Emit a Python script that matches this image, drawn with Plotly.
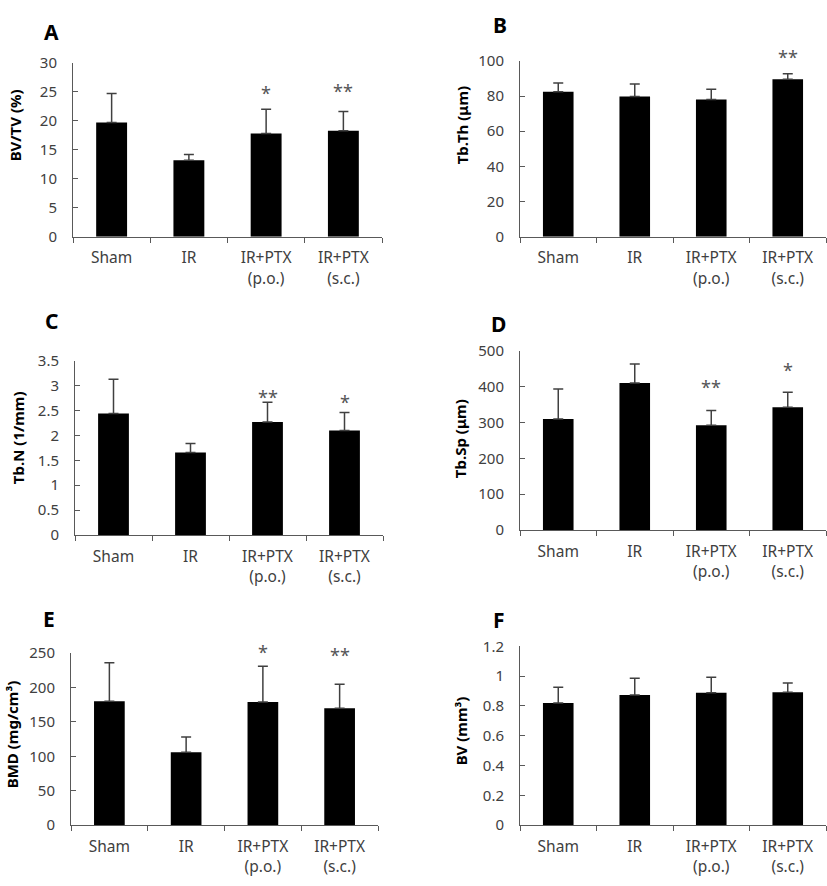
import plotly.graph_objects as go

W, H = 827, 886

categories = ["Sham", "IR", "IR+PTX<br>(p.o.)", "IR+PTX<br>(s.c.)"]

# Panel A: BV/TV (%)
bvtv_mean = [19.7, 13.2, 17.8, 18.3]
bvtv_err = [5.0, 1.0, 4.2, 3.3]
bvtv_stars = ["", "", "*", "**"]
bvtv_star_y = [0, 0, 24.8, 25.1]

# Panel B: Tb.Th (um)
tbth_mean = [82.4, 79.8, 78.1, 89.6]
tbth_err = [5.0, 7.1, 5.8, 3.0]
tbth_stars = ["", "", "", "**"]
tbth_star_y = [0, 0, 0, 102.4]

# Panel C: Tb.N (1/mm)
tbn_mean = [2.44, 1.66, 2.27, 2.10]
tbn_err = [0.69, 0.18, 0.40, 0.36]
tbn_stars = ["", "", "**", "*"]
tbn_star_y = [0, 0, 2.77, 2.67]

# Panel D: Tb.Sp (um)
tbsp_mean = [310, 411, 293, 343]
tbsp_err = [84, 53, 41, 42]
tbsp_stars = ["", "", "**", "*"]
tbsp_star_y = [0, 0, 399, 446]

# Panel E: BMD (mg/cm3)
bmd_mean = [180, 106, 179, 170]
bmd_err = [56, 22, 52, 35]
bmd_stars = ["", "", "*", "**"]
bmd_star_y = [0, 0, 252, 248]

# Panel F: BV (mm3)
bv_mean = [0.82, 0.873, 0.888, 0.892]
bv_err = [0.105, 0.113, 0.105, 0.062]
bv_stars = ["", "", "", ""]
bv_star_y = [0, 0, 0, 0]

panels = [
    dict(letter="A", title="BV/TV (%)", mean=bvtv_mean, err=bvtv_err, stars=bvtv_stars, star_y=bvtv_star_y,
         ymax=30, dtick=5, px=(73, 382), py=(53, 231), lpos=(51, 21), tpos=(15, 117)),
    dict(letter="B", title="Tb.Th (μm)", mean=tbth_mean, err=tbth_err, stars=tbth_stars, star_y=tbth_star_y,
         ymax=100, dtick=20, px=(520, 826), py=(51, 231), lpos=(500, 14), tpos=(462, 117)),
    dict(letter="C", title="Tb.N (1/mm)", mean=tbn_mean, err=tbn_err, stars=tbn_stars, star_y=tbn_star_y,
         ymax=3.5, dtick=0.5, px=(75, 383), py=(358, 536), lpos=(51, 317), tpos=(18, 437)),
    dict(letter="D", title="Tb.Sp (μm)", mean=tbsp_mean, err=tbsp_err, stars=tbsp_stars, star_y=tbsp_star_y,
         ymax=500, dtick=100, px=(520, 826), py=(348, 531), lpos=(498, 320), tpos=(460, 437)),
    dict(letter="E", title="BMD (mg/cm³)", mean=bmd_mean, err=bmd_err, stars=bmd_stars, star_y=bmd_star_y,
         ymax=250, dtick=50, px=(71, 378), py=(657, 833), lpos=(49, 622), tpos=(12, 740)),
    dict(letter="F", title="BV (mm³)", mean=bv_mean, err=bv_err, stars=bv_stars, star_y=bv_star_y,
         ymax=1.2, dtick=0.2, px=(520, 826), py=(650, 833), lpos=(499, 623), tpos=(461, 737)),
]

FONT = "Noto Sans"
AXIS_COLOR = "#595959"
TEXT_COLOR = "#404040"

fig = go.Figure()
annotations = []
layout = {}

for i, p in enumerate(panels, start=1):
    xa = "x" if i == 1 else f"x{i}"
    ya = "y" if i == 1 else f"y{i}"
    fig.add_trace(go.Bar(
        x=categories, y=p["mean"], xaxis=xa, yaxis=ya,
        marker=dict(color="#000000", line=dict(width=0)),
        width=0.4,
        error_y=dict(type="data", symmetric=False, array=p["err"], arrayminus=[0] * 4,
                     color="#404040", thickness=1.5, width=5),
        showlegend=False, hoverinfo="skip",
    ))
    x0, x1 = p["px"]
    y0, y1 = p["py"]
    layout["xaxis" if i == 1 else f"xaxis{i}"] = dict(
        domain=[x0 / W, x1 / W], anchor=ya, type="category",
        range=[-0.5, 3.5], showline=True, linecolor=AXIS_COLOR, linewidth=1,
        ticks="outside", ticklen=5, tickcolor=AXIS_COLOR, tickson="boundaries",
        showgrid=False, zeroline=False, ticklabelstandoff=7,
        tickfont=dict(family=FONT, size=15.5, color=TEXT_COLOR),
    )
    layout["yaxis" if i == 1 else f"yaxis{i}"] = dict(
        domain=[1 - y1 / H, 1 - y0 / H], anchor=xa,
        range=[0, p["ymax"]], dtick=p["dtick"], tick0=0,
        showline=True, linecolor=AXIS_COLOR, linewidth=1,
        ticks="inside", ticklen=5, tickcolor=AXIS_COLOR,
        showgrid=False, zeroline=False, ticklabelstandoff=12,
        tickfont=dict(family=FONT, size=15, color=TEXT_COLOR),
    )
    # panel letter
    annotations.append(dict(
        text=f"<b>{p['letter']}</b>", x=p["lpos"][0] / W, y=1 - p["lpos"][1] / H,
        xref="paper", yref="paper", showarrow=False, xanchor="center", yanchor="middle",
        font=dict(family=FONT, size=21, color="#000000"),
    ))
    # y-axis title
    annotations.append(dict(
        text=f"<b>{p['title']}</b>", x=p["tpos"][0] / W, y=1 - p["tpos"][1] / H,
        xref="paper", yref="paper", showarrow=False, textangle=-90,
        xanchor="center", yanchor="middle",
        font=dict(family=FONT, size=15, color="#000000"),
    ))
    # significance stars (y given in data units, placed via the axis domain so
    # stars above the top of the range are still shown)
    for c, s, sy in zip(categories, p["stars"], p["star_y"]):
        if s:
            annotations.append(dict(
                text=s, x=c, y=sy / p["ymax"], xref=xa, yref=f"{ya} domain", showarrow=False,
                xanchor="center", yanchor="middle",
                font=dict(family=FONT, size=18, color="#555555"),
            ))

fig.update_layout(
    width=W, height=H, autosize=False,
    margin=dict(l=0, r=0, t=0, b=0),
    paper_bgcolor="white", plot_bgcolor="white",
    annotations=annotations, bargap=0.6,
    **layout,
)

fig.write_html("out.html", config={"displayModeBar": False},
               post_script="document.body.style.margin='0';document.body.style.padding='0';document.documentElement.style.overflow='hidden';")
